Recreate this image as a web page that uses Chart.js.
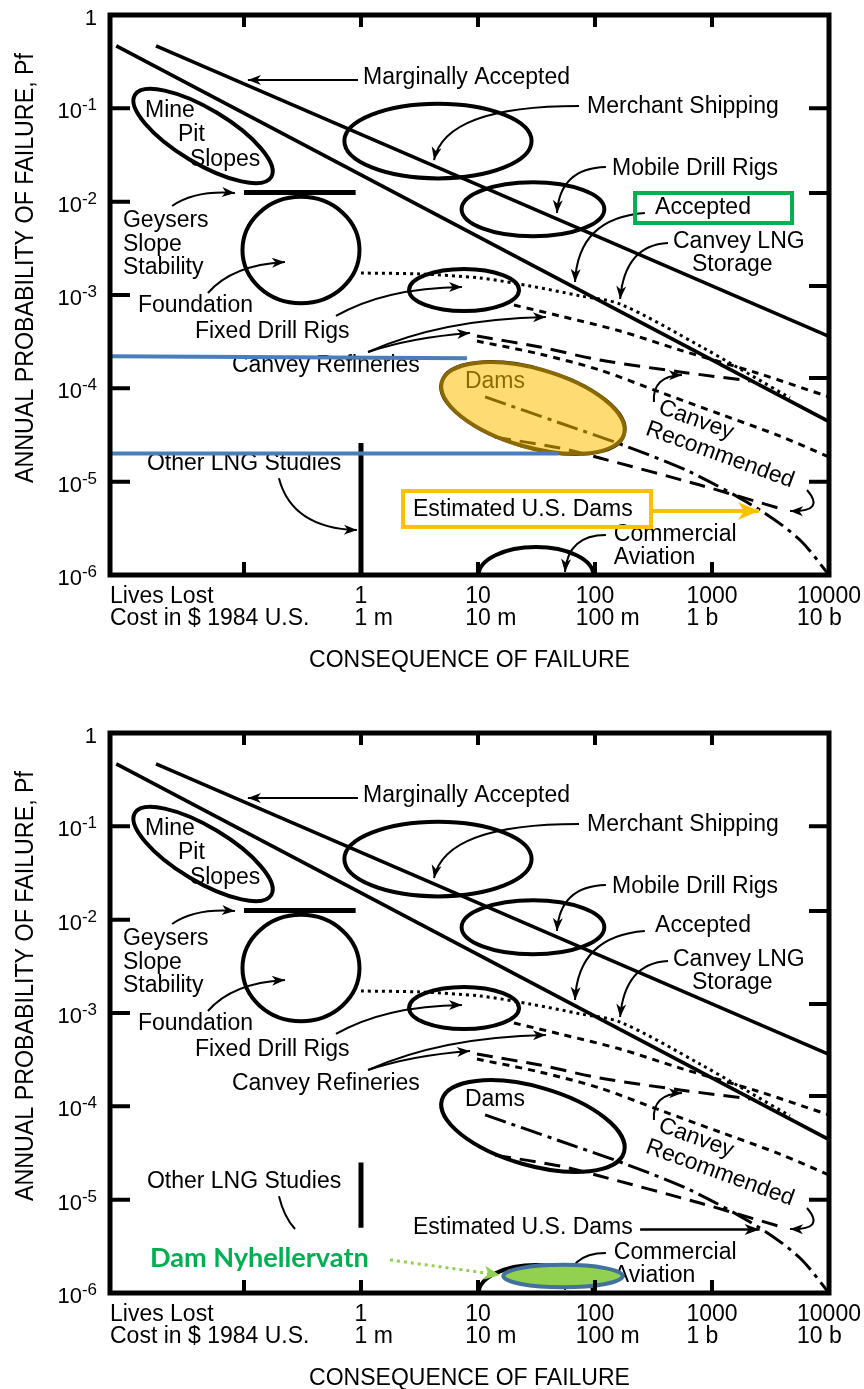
<!DOCTYPE html>
<html>
<head>
<meta charset="utf-8">
<title>Annual probability of failure vs consequence</title>
<script src="https://cdn.jsdelivr.net/npm/chart.js@4.4.1/dist/chart.umd.min.js"></script>
<style>
  html, body { margin: 0; padding: 0; background: #fff; }
  canvas { display: block; }
</style>
</head>
<body>
<canvas id="riskTop" width="864" height="718"></canvas>
<canvas id="riskBottom" width="864" height="671"></canvas>
<script>
// axes: lives lost / cost (x) and annual probability of failure (y), both log
var xMin = 0.00716, xMax = 10000;
var labelAt = [1, 10, 100, 1000, 10000];
var livesLost = ['1', '10', '100', '1000', '10000'];
var costLabels = ['1 m', '10 m', '100 m', '1 b', '10 b'];
var xTickAt = [0.1, 1, 10, 100, 1000];
var yExponents = [0, -1, -2, -3, -4, -5, -6];
var rightTickAt = [0.1, 0.0124, 0.00125, 0.000129, 0.00001];

// curves, as [lives lost, Pf]
var marginallyAccepted = [[0.0177, 0.466], [10000, 3.6e-4]];
var accepted = [[0.0081, 0.466], [10000, 4.4e-5]];
var geysersBar = [[0.1, 0.0125], [0.9, 0.0125]];
var canveyLng = [[1, 1.72e-3], [3.19, 1.68e-3], [10.4, 1.52e-3], [27.8, 1.25e-3], [74.5, 9.8e-4], [164, 8.0e-4], [789, 2.84e-4], [4640, 7.9e-5]];
var canveyRefineries1 = [[20.3, 7.8e-4], [50.2, 5.96e-4], [164, 4.11e-4], [533, 2.57e-4], [2425, 1.46e-4], [10000, 8.1e-5]];
var canveyRefineries2 = [[9.8, 3.21e-4], [33.9, 2.33e-4], [110, 1.57e-4], [359, 9.1e-5], [1170, 5.3e-5], [3810, 3.08e-5], [10000, 1.84e-5]];
var canveyRecommended1 = [[9.8, 3.64e-4], [33.9, 2.77e-4], [110, 2.01e-4], [533, 1.50e-4], [2113, 1.20e-4]];
var canveyRecommended2 = [[14.0, 3.0e-5], [50.2, 2.29e-5], [110, 1.79e-5], [789, 9.2e-6], [4200, 4.97e-6]];
var estimatedUsDams = [[11.5, 8.1e-5], [50.2, 4.25e-5], [164, 2.53e-5], [649, 1.27e-5], [2570, 4.97e-6], [5650, 2.37e-6], [10000, 1e-6]];
var otherLngTop = [[1, 2.6e-5], [1, 1e-6]];
var otherLngBottom = [[1, 2.5e-5], [1, 5e-6]];
var markUpper = [[xMin, 2.2e-4], [8.05, 2.1e-4]];
var markLower = [[xMin, 2.0e-5], [49, 2.0e-5]];

// regions: centre in data units, half extents in decades
var regions = [
  { name: 'Mine Pit Slopes', x: 0.0447, y: 0.0505, dx: 0.68, dy: 0.29, tilt: 31 },
  { name: 'Geysers Slope Stability', x: 0.307, y: 3.03e-3, dx: 0.50, dy: 0.57, tilt: 0 },
  { name: 'Merchant Shipping', x: 4.55, y: 0.0446, dx: 0.80, dy: 0.40, tilt: 0 },
  { name: 'Mobile Drill Rigs', x: 29.5, y: 8.3e-3, dx: 0.61, dy: 0.29, tilt: 0 },
  { name: 'Fixed Drill Rigs', x: 7.6, y: 1.13e-3, dx: 0.47, dy: 0.225, tilt: 0 },
  { name: 'Dams', x: 29.5, y: 6.15e-5, dx: 0.81, dy: 0.42, tilt: 16 },
  { name: 'Commercial Aviation', x: 31.3, y: 1e-6, dx: 0.49, dy: 0.30, tilt: 0 }
];
var nyhellervatn = { name: 'Dam Nyhellervatn', x: 53.3, y: 1.52e-6, dx: 0.51, dy: 0.12, tilt: 0 };

var notes = [
  { text: 'Marginally Accepted', at: [1.04, 0.211] },
  { text: 'Merchant Shipping', at: [85.5, 0.103] },
  { text: 'Mine', at: [0.01426, 0.0936] },
  { text: 'Pit', at: [0.0273, 0.0518] },
  { text: 'Slopes', at: [0.0345, 0.0279] },
  { text: 'Mobile Drill Rigs', at: [139.7, 0.0224] },
  { text: 'Accepted', at: [326, 8.55e-3] },
  { text: 'Canvey LNG', at: [464, 3.70e-3] },
  { text: 'Storage', at: [675, 2.10e-3] },
  { text: 'Geysers', at: [9.24e-3, 6.2e-3] },
  { text: 'Slope', at: [9.24e-3, 3.43e-3] },
  { text: 'Stability', at: [9.24e-3, 1.95e-3] },
  { text: 'Foundation', at: [0.0124, 7.6e-4] },
  { text: 'Fixed Drill Rigs', at: [0.0381, 4.0e-4] },
  { text: 'Canvey Refineries', at: [0.0789, 1.73e-4] },
  { text: 'Dams', at: [7.74, 1.17e-4] },
  { text: 'Other LNG Studies', at: [0.0148, 1.55e-5] },
  { text: 'Estimated U.S. Dams', at: [2.78, 4.97e-6] },
  { text: 'Commercial', at: [145, 2.68e-6] },
  { text: 'Aviation', at: [145, 1.52e-6] },
  { text: 'Canvey', at: [730, 4.57e-5], tilt: 20 },
  { text: 'Recommended', at: [1170, 1.93e-5], tilt: 20 }
];

var pointers = [
  { from: [0.943, 0.201], to: [0.108, 0.201] },
  { from: [73, 0.106], via: [5.22, 0.106], to: [4.21, 0.0279] },
  { from: [124, 0.0235], via: [50.2, 0.0229], to: [47.3, 7.56e-3] },
  { from: [267, 7.56e-3], via: [71.6, 6.68e-3], to: [67.5, 1.38e-3] },
  { from: [421, 3.61e-3], via: [180, 3.43e-3], to: [164, 9.06e-4] },
  { from: [0.0243, 8.99e-3], via: [0.0381, 0.01334], to: [0.0838, 0.01239] },
  { from: [0.0492, 1.05e-3], via: [0.0789, 2.10e-3], to: [0.224, 2.26e-3] },
  { from: [0.611, 5.96e-4], via: [1.60, 1.19e-3], to: [7.30, 1.22e-3] },
  { from: [1.15, 2.45e-4], via: [4.92, 5.53e-4], to: [38.1, 5.81e-4] },
  { from: [1.15, 2.45e-4], via: [2.68, 3.51e-4], to: [8.55, 3.92e-4] },
  { from: [124, 2.68e-6], via: [58.8, 2.68e-6], to: [55.4, 1.08e-6] },
  { from: [319, 7.13e-5], via: [307, 1.36e-4], to: [554, 1.39e-4] },
  { from: [6486, 8.14e-6], via: [9420, 4.73e-6], to: [4645, 4.85e-6] }
];

var FONT = '"Liberation Sans", Arial, sans-serif';

function px(chart, p) {
  return [chart.scales.x.getPixelForValue(p[0]), chart.scales.y.getPixelForValue(p[1])];
}

function regionPath(chart, r, grow) {
  var xs = chart.scales.x, ys = chart.scales.y;
  var c = px(chart, [r.x, r.y]);
  var decX = xs.getPixelForValue(10) - xs.getPixelForValue(1);
  var decY = ys.getPixelForValue(0.1) - ys.getPixelForValue(1);
  chart.ctx.beginPath();
  chart.ctx.ellipse(c[0], c[1], r.dx * decX + grow, r.dy * decY + grow, (r.tilt || 0) * Math.PI / 180, 0, 2 * Math.PI);
}

function arrowHead(ctx, fx, fy, tx, ty, len, half) {
  ctx.save();
  ctx.translate(tx, ty);
  ctx.rotate(Math.atan2(ty - fy, tx - fx));
  ctx.beginPath();
  ctx.moveTo(0, 0);
  ctx.lineTo(-len, -half);
  ctx.lineTo(-len * 0.72, 0);
  ctx.lineTo(-len, half);
  ctx.closePath();
  ctx.fill();
  ctx.restore();
}

function drawPointer(chart, p, style) {
  var ctx = chart.ctx;
  style = style || {};
  var f = px(chart, p.from), t = px(chart, p.to), last = f;
  ctx.save();
  ctx.strokeStyle = style.color || '#000';
  ctx.fillStyle = style.color || '#000';
  ctx.lineWidth = style.width || 2;
  ctx.setLineDash(style.dash || []);
  ctx.beginPath();
  ctx.moveTo(f[0], f[1]);
  if (p.via) {
    last = px(chart, p.via);
    ctx.quadraticCurveTo(last[0], last[1], t[0], t[1]);
  } else {
    ctx.lineTo(t[0], t[1]);
  }
  ctx.stroke();
  ctx.setLineDash([]);
  if (!p.open) arrowHead(ctx, last[0], last[1], t[0], t[1], style.head || 13, style.half || 5);
  ctx.restore();
}

function writeNote(chart, n) {
  var ctx = chart.ctx, p = px(chart, n.at);
  ctx.save();
  ctx.fillStyle = '#000';
  ctx.font = '23px ' + FONT;
  ctx.textBaseline = 'middle';
  ctx.translate(p[0], p[1]);
  if (n.tilt) {
    ctx.rotate(n.tilt * Math.PI / 180);
    ctx.textAlign = 'center';
  } else {
    ctx.textAlign = 'left';
  }
  ctx.fillText(n.text, 0, 0);
  ctx.restore();
}

function boxAround(chart, c1, c2, color) {
  var a = px(chart, c1), b = px(chart, c2), ctx = chart.ctx;
  ctx.save();
  ctx.strokeStyle = color;
  ctx.lineWidth = 4;
  ctx.strokeRect(a[0], a[1], b[0] - a[0], b[1] - a[1]);
  ctx.restore();
}

function drawAxes(chart) {
  var ctx = chart.ctx, a = chart.chartArea, xs = chart.scales.x, ys = chart.scales.y;
  ctx.save();
  ctx.strokeStyle = '#000';
  ctx.fillStyle = '#000';
  ctx.lineWidth = 4;
  ctx.beginPath();
  yExponents.slice(1, -1).forEach(function(e) {
    var y = ys.getPixelForValue(Math.pow(10, e));
    ctx.moveTo(a.left, y); ctx.lineTo(a.left + 20, y);
  });
  rightTickAt.forEach(function(v) {
    var y = ys.getPixelForValue(v);
    ctx.moveTo(a.right - 20, y); ctx.lineTo(a.right, y);
  });
  xTickAt.forEach(function(v) {
    var x = xs.getPixelForValue(v);
    ctx.moveTo(x, a.top); ctx.lineTo(x, a.top + 12);
    ctx.moveTo(x, a.bottom - 13); ctx.lineTo(x, a.bottom);
  });
  ctx.stroke();
  ctx.lineWidth = 5;
  ctx.strokeRect(a.left, a.top, a.right - a.left, a.bottom - a.top);

  // probability labels with superscript exponents
  var main = '22px ' + FONT, sup = '17px ' + FONT;
  ctx.textBaseline = 'alphabetic';
  ctx.textAlign = 'left';
  yExponents.forEach(function(e) {
    var base = ys.getPixelForValue(Math.pow(10, e)) + 10;
    var right = a.left - 13;
    ctx.font = main;
    if (e === 0) {
      ctx.fillText('1', right - ctx.measureText('1').width, base);
      return;
    }
    var s = '-' + (-e);
    ctx.font = sup;
    var ws = ctx.measureText(s).width;
    ctx.font = main;
    var wm = ctx.measureText('10').width;
    ctx.fillText('10', right - ws - wm, base);
    ctx.font = sup;
    ctx.fillText(s, right - ws, base - 8);
  });

  // consequence labels
  ctx.font = '23px ' + FONT;
  ctx.fillText('Lives Lost', a.left, a.bottom + 28);
  ctx.fillText('Cost in $ 1984 U.S.', a.left, a.bottom + 50);
  labelAt.forEach(function(v, i) {
    var x = xs.getPixelForValue(v) - ctx.measureText(livesLost[i]).width / 2;
    ctx.fillText(livesLost[i], x, a.bottom + 28);
    ctx.fillText(costLabels[i], x, a.bottom + 50);
  });
  ctx.textAlign = 'center';
  ctx.fillText('CONSEQUENCE OF FAILURE', (a.left + a.right) / 2, a.bottom + 92);

  // rotated probability title, narrowed
  var title = 'ANNUAL PROBABILITY OF FAILURE, Pf';
  ctx.font = '26px ' + FONT;
  var k = 430 / ctx.measureText(title).width;
  ctx.translate(a.left - 77, a.top + 253);
  ctx.rotate(-Math.PI / 2);
  ctx.scale(k, 1);
  ctx.fillText(title, 0, 0);
  ctx.restore();
}

function riskNotes(panel) {
  return {
    id: 'riskNotes',
    beforeDatasetsDraw: function(chart) {
      var ctx = chart.ctx, a = chart.chartArea;
      ctx.save();
      ctx.beginPath();
      ctx.rect(a.left, a.top, a.right - a.left, a.bottom - a.top);
      ctx.clip();
      ctx.strokeStyle = '#000';
      ctx.lineWidth = 4;
      regions.forEach(function(r) {
        regionPath(chart, r, 0);
        ctx.stroke();
      });
      ctx.restore();

      notes.forEach(function(n) { writeNote(chart, n); });
      pointers.forEach(function(p) { drawPointer(chart, p); });

      if (panel.highlight) {
        drawPointer(chart, { from: [0.199, 1.09e-5], via: [0.257, 3.19e-6], to: [0.924, 3.03e-6] });
      } else {
        drawPointer(chart, { from: [0.199, 1.09e-5], via: [0.220, 6.52e-6], to: [0.273, 4.85e-6], open: true });
        drawPointer(chart, { from: [243, 4.8e-6], to: [2551, 4.8e-6] }, { width: 2.5, head: 15, half: 5.5 });
      }
    },
    beforeDatasetDraw: function(chart, args) {
      // tint the dams region before the marker lines go on top
      if (panel.highlight && args.index === 1) {
        var ctx = chart.ctx;
        ctx.save();
        regionPath(chart, regions[5], 2);
        ctx.fillStyle = 'rgba(255, 192, 0, 0.55)';
        ctx.fill();
        ctx.restore();
      }
    },
    afterDatasetsDraw: function(chart) {
      var ctx = chart.ctx;
      if (panel.highlight) {
        boxAround(chart, [220, 0.01239], [4830, 5.91e-3], '#00b050');
        boxAround(chart, [2.29, 7.94e-6], [301, 3.27e-6], '#ffc000');
        drawPointer(chart, { from: [301, 4.85e-6], to: [2523, 4.85e-6] }, { color: '#ffc000', width: 4, head: 21, half: 9 });
      } else {
        drawPointer(chart, { from: [1.77, 2.26e-6], to: [15.4, 1.56e-6] }, { color: '#92d050', width: 3, dash: [3, 4], head: 16, half: 7 });
        ctx.save();
        regionPath(chart, nyhellervatn, 0);
        ctx.fillStyle = '#92d050';
        ctx.fill();
        ctx.strokeStyle = '#41719c';
        ctx.lineWidth = 4;
        ctx.stroke();
        var p = px(chart, [0.0157, 2.37e-6]);
        ctx.font = 'bold 24px Lato, ' + FONT;
        var size = 24 * 219 / ctx.measureText('Dam Nyhellervatn').width;
        ctx.font = 'bold ' + size.toFixed(1) + 'px Lato, ' + FONT;
        ctx.fillStyle = '#00b050';
        ctx.textBaseline = 'middle';
        ctx.fillText('Dam Nyhellervatn', p[0], p[1]);
        ctx.restore();
      }
      drawAxes(chart);
    }
  };
}

function lineSet(name, pts, width, dash, color, tension) {
  return {
    label: name,
    data: pts.map(function(p) { return { x: p[0], y: p[1] }; }),
    showLine: true,
    borderColor: color || '#000',
    borderWidth: width,
    borderDash: dash || [],
    borderCapStyle: 'butt',
    pointRadius: 0,
    fill: false,
    tension: tension || 0
  };
}

function riskChart(id, panel) {
  var canvas = document.getElementById(id);
  var sets = [];
  if (panel.highlight) {
    sets.push(lineSet('markUpper', markUpper, 4, null, '#4a7ebb'));
    sets.push(lineSet('markLower', markLower, 4, null, '#4a7ebb'));
  }
  sets.push(lineSet('Marginally Accepted', marginallyAccepted, 3.6));
  sets.push(lineSet('Accepted', accepted, 3.6));
  sets.push(lineSet('Geysers', geysersBar, 5));
  sets.push(lineSet('Canvey LNG Storage', canveyLng, 3, [3, 4], null, 0.3));
  sets.push(lineSet('Canvey Refineries 1', canveyRefineries1, 3, [7, 6], null, 0.3));
  sets.push(lineSet('Canvey Refineries 2', canveyRefineries2, 3, [7, 6], null, 0.3));
  sets.push(lineSet('Canvey Recommended 1', canveyRecommended1, 3, [16, 9], null, 0.3));
  sets.push(lineSet('Canvey Recommended 2', canveyRecommended2, 3, [16, 9], null, 0.3));
  sets.push(lineSet('Estimated U.S. Dams', estimatedUsDams, 3, [22, 6, 4, 6], null, 0.3));
  sets.push(lineSet('Other LNG Studies', panel.highlight ? otherLngTop : otherLngBottom, 5));

  return new Chart(canvas, {
    type: 'scatter',
    data: { datasets: sets },
    options: {
      responsive: false,
      animation: false,
      devicePixelRatio: 1,
      events: [],
      layout: { padding: { left: 110, top: 15, right: 35, bottom: canvas.height - 575 } },
      plugins: { legend: { display: false }, tooltip: { enabled: false } },
      scales: {
        x: { type: 'logarithmic', min: xMin, max: xMax, display: false },
        y: { type: 'logarithmic', min: 1e-6, max: 1, display: false }
      }
    },
    plugins: [riskNotes(panel)]
  });
}

riskChart('riskTop', { highlight: true });
riskChart('riskBottom', { highlight: false });
</script>
</body>
</html>
